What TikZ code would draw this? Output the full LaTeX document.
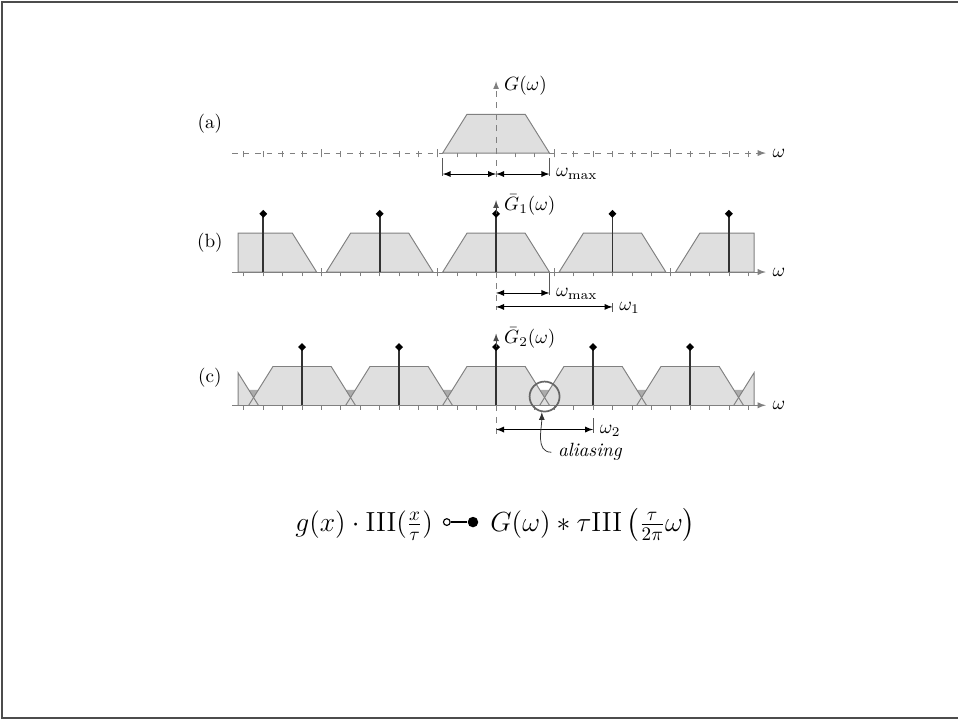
\documentclass[tikz,border=0pt]{standalone}
\usepackage{amsmath}
\usepackage{amssymb}
\usepackage{tikz}
\usetikzlibrary{arrows}
\usetikzlibrary{shapes.geometric}
\usetikzlibrary{positioning}

\begin{document}
\begin{tikzpicture}[x=0.356cm,y=0.356cm,>=latex,
  trap/.style={fill=gray!25,draw=gray,line width=0.5pt},
  spike/.style={black!80,line width=0.9pt},
  tipdot/.style={diamond,fill=black,inner sep=0pt,minimum size=4.5pt},
  tck/.style={gray,line width=0.4pt},
  dimline/.style={<->,line width=0.45pt},
  dimbar/.style={gray!70!black,line width=0.4pt},
  waxis/.style={->,gray,line width=0.5pt},
  ylab/.style={anchor=west,inner sep=1pt}]
\useasboundingbox (-25.57,-29.18) rectangle (23.81,7.89);
\draw[black!70,line width=0.8pt] (24.5,7.79) -- (-25.47,7.79) -- (-25.47,-29.13) -- (24.5,-29.13);

% (a)
\node (la) at (-14.75,1.5) {(a)};
\foreach \k in {-13,...,-1,1,2,...,13} \draw[tck] (\k,-0.22) -- (\k,0.12);
\foreach \k in {-9,-3,3,9} \draw[tck] (\k,-0.22) -- (\k,0.22);
\draw[trap] (-2.75,0) -- (-1.5,2) -- (1.5,2) -- (2.75,0) -- cycle;
\draw[gray,dashed] (-13.6,0) -- (-2.75,0);
\draw[waxis,dashed] (2.75,0) -- (13.9,0);
\node[anchor=west] (wa) at (13.9,0) {$\omega$};
\draw[gray,dashed,->] (0,-1.24) -- (0,3.7);
\node[ylab] (Ga) at (0.3,3.45) {$G(\omega)$};
\draw[dimbar] (-2.75,-0.25) -- (-2.75,-1.2);
\draw[dimbar] (2.75,-0.25) -- (2.75,-1.2);
\draw[dimline] (-2.75,-1.08) -- (0,-1.08);
\draw[dimline] (0,-1.08) -- (2.75,-1.08);
\node[anchor=west] (wmaxa) at (2.75,-1.08) {$\omega_{\max}$};

% (b)
\begin{scope}[shift={(0,-6.13)}]
\node (lb) at (-14.75,1.5) {(b)};
\foreach \k in {-13,...,-1,1,2,...,13} \draw[tck] (\k,-0.22) -- (\k,0.12);
\foreach \k in {-9,-3,3,9} \draw[tck] (\k,-0.22) -- (\k,0.22);
\foreach \c in {-6,0,6}
  \draw[trap] (\c-2.75,0) -- (\c-1.5,2) -- (\c+1.5,2) -- (\c+2.75,0) -- cycle;
\draw[trap] (-13.3,0) -- (-13.3,2) -- (-10.5,2) -- (-9.25,0) -- cycle;
\draw[trap] (13.3,0) -- (13.3,2) -- (10.5,2) -- (9.25,0) -- cycle;
\draw[waxis] (-13.6,0) -- (13.9,0);
\node[anchor=west] (wb) at (13.9,0) {$\omega$};
\foreach \c in {-12,-6,0,6,12} \draw[spike] (\c,0) -- (\c,3) node[tipdot] {};
\draw[->,black!70] (0,3) -- (0,3.7);
\node[ylab] (Gb) at (0.3,3.45) {$\bar{G}_1(\omega)$};
\draw[gray,dashed] (0,0) -- (0,-1.95);
\draw[dimbar] (2.75,-0.05) -- (2.75,-1.2);
\draw[dimbar] (6,-1.6) -- (6,-2.05);
\draw[dimline] (0,-1.08) -- (2.75,-1.08);
\draw[dimline] (0,-1.8) -- (6,-1.8);
\node[anchor=west] (wmaxb) at (2.75,-1.12) {$\omega_{\max}$};
\node[anchor=west] (w1) at (6,-1.85) {$\omega_1$};
\end{scope}

% (c)
\begin{scope}[shift={(0,-13)}]
\node (lc) at (-14.75,1.4) {(c)};
\foreach \k in {-13,...,-1,1,2,...,13} \draw[tck] (\k,-0.22) -- (\k,0.12);
\foreach \c in {-10,-5,0,5,10}
  \fill[gray!25] (\c-2.75,0) -- (\c-1.5,2) -- (\c+1.5,2) -- (\c+2.75,0) -- cycle;
\fill[gray!25] (-13.3,0) -- (-13.3,1.68) -- (-12.25,0) -- cycle;
\fill[gray!25] (13.3,0) -- (13.3,1.68) -- (12.25,0) -- cycle;
\foreach \c in {-12.5,-7.5,-2.5,2.5,7.5,12.5}
  \fill[gray!65] (\c-0.25,0.8) -- (\c+0.25,0.8) -- (\c,0.4) -- cycle;
\foreach \c in {-10,-5,0,5,10}
  \draw[gray,line width=0.5pt] (\c-2.75,0) -- (\c-1.5,2) -- (\c+1.5,2) -- (\c+2.75,0);
\draw[gray,line width=0.5pt] (-13.3,0) -- (-13.3,1.68) -- (-12.25,0);
\draw[gray,line width=0.5pt] (13.3,0) -- (13.3,1.68) -- (12.25,0);
\draw[waxis] (-13.6,0) -- (13.9,0);
\node[anchor=west] (wc) at (13.9,0) {$\omega$};
\foreach \c in {-10,-5,0,5,10} \draw[spike] (\c,0) -- (\c,3) node[tipdot] {};
\draw[->,black!70] (0,3) -- (0,3.7);
\node[ylab] (Gc) at (0.3,3.45) {$\bar{G}_2(\omega)$};
\draw[gray,dashed] (0,0) -- (0,-1.6);
\draw[dimbar] (5,-0.67) -- (5,-1.44);
\draw[dimline] (0,-1.25) -- (5,-1.25);
\node[anchor=west] (w2) at (5,-1.3) {$\omega_2$};
\node[circle,draw=gray!80!black,line width=0.9pt,minimum size=0.55cm,inner sep=0pt] (circ) at (2.5,0.45) {};
\node (alias) at (4.85,-2.42) {\textit{aliasing}};
\draw[->,black!80] (alias.west) to[out=180,in=-90] (circ.-100);
\end{scope}

% formula
\node[anchor=base west,inner sep=0pt,font=\Large] (lhs) at (-10.36,-19.5)
  {$g(x)\cdot\mathrm{III}(\frac{x}{\tau})$};
\node[circle,draw,line width=0.6pt,inner sep=0pt,minimum size=3.5pt] (oc) at (-2.54,-19.02) {};
\node[circle,fill,inner sep=0pt,minimum size=5.5pt] (fc) at (-1.19,-19.02) {};
\draw[line width=0.8pt] (oc) -- (fc);
\node[anchor=base west,inner sep=0pt,font=\Large] (rhs) at (-0.31,-19.5)
  {$G(\omega)\ast\tau\mathrm{III}\left(\frac{\tau}{2\pi}\omega\right)$};
\end{tikzpicture}
\end{document}
